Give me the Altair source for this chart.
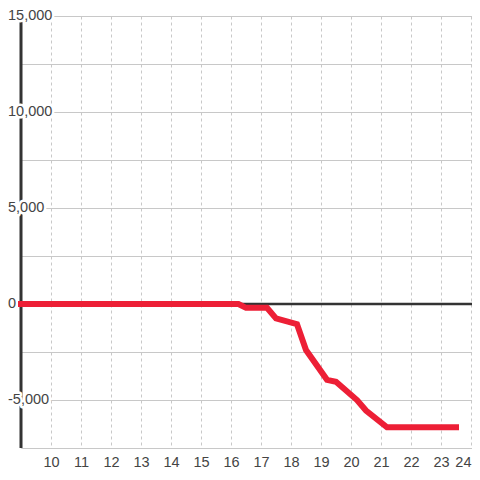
import altair as alt
import pandas as pd

# series
xs = [9, 16.25, 16.5, 17.2, 17.5, 18.2, 18.5, 19.2, 19.5, 20.2, 20.5, 21.2, 23.5]
ys = [0, 0, -200, -200, -750, -1050, -2400, -3950, -4050, -5000, -5550, -6420, -6420]

# y labels
ylab_vals = [15000, 10000, 5000, 0, -5000]
ylab_text = ["15,000", "10,000", "5,000", "0", "-5,000"]
ygrid_vals = [15000, 12500, 10000, 7500, 5000, 2500, 0, -2500, -5000, -7500]
xtick_vals = list(range(10, 25))

line_df = pd.DataFrame({"x": xs, "y": ys})
lab_df = pd.DataFrame({"v": ylab_vals, "t": ylab_text})

FONT = "Liberation Sans"
FS = 14.5
TXT = "#444"
W = 451
XMAX = 9 + W / 30
xscale = alt.Scale(domain=[9, XMAX], nice=False, zero=False)
yscale = alt.Scale(domain=[-7500, 15000], nice=False, zero=False)

def xaxis():
    return alt.Axis(values=xtick_vals, format="d", title=None, domain=False, ticks=False,
                    labelFont=FONT, labelFontSize=FS, labelColor=TXT, labelPadding=7,
                    labelFlush=2, labelOverlap=False,
                    grid=True, gridColor="#c8c8c8", gridDash=[3, 3], gridWidth=1)

def yaxis():
    return alt.Axis(values=ygrid_vals, title=None, labels=False, ticks=False,
                    domain=False, grid=True, gridColor="#c8c8c8", gridWidth=1)

zero = alt.Chart(pd.DataFrame({"z": [0]})).mark_rule(color="#333", strokeWidth=2.5).encode(
    y=alt.Y("z:Q", scale=yscale, axis=yaxis())
)

yline = alt.Chart(pd.DataFrame({"a": [9]})).mark_rule(color="#333", strokeWidth=3).encode(
    x=alt.X("a:Q", scale=xscale, axis=xaxis())
)

halo = alt.Chart(lab_df).mark_text(
    align="left", baseline="middle", font=FONT, fontSize=FS,
    fill="white", stroke="white", strokeWidth=5, strokeJoin="round"
).encode(
    x=alt.value(-13),
    y=alt.Y("v:Q", scale=yscale, axis=yaxis()),
    text="t:N",
)

labels = alt.Chart(lab_df).mark_text(
    align="left", baseline="middle", font=FONT, fontSize=FS, color=TXT
).encode(
    x=alt.value(-13),
    y=alt.Y("v:Q", scale=yscale, axis=yaxis()),
    text="t:N",
)

red = alt.Chart(line_df).mark_line(
    color="#ed1f36", strokeWidth=6, strokeCap="square", strokeJoin="miter"
).encode(
    x=alt.X("x:Q", scale=xscale, axis=xaxis()),
    y=alt.Y("y:Q", scale=yscale, axis=yaxis()),
)

chart = alt.layer(zero, yline, halo, labels, red).properties(
    width=W, height=432,
    autosize=alt.AutoSizeParams(type="none"),
    padding={"left": 13, "top": 8, "right": 0, "bottom": 24},
).configure_view(stroke=None).configure(background="white")

chart.save("out.html", embed_options={"renderer": "svg", "actions": False})
